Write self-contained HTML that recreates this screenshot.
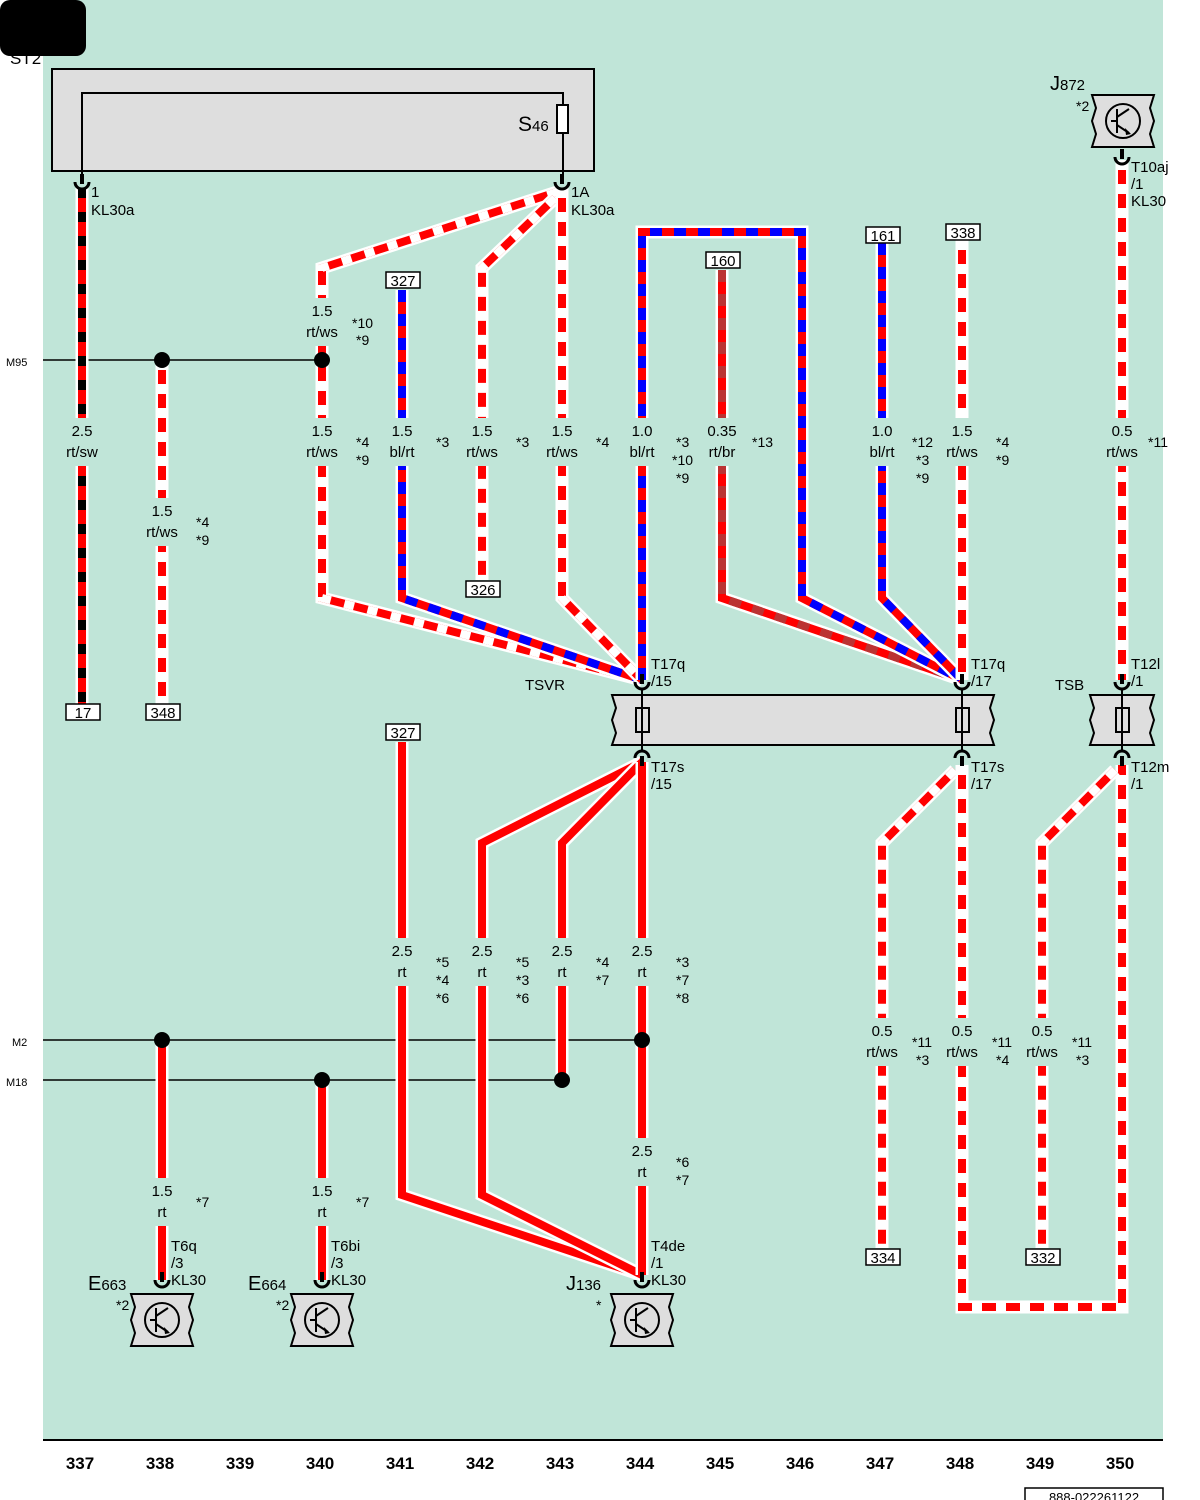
<!DOCTYPE html>
<html><head><meta charset="utf-8"><style>
body{margin:0;width:1200px;height:1500px;overflow:hidden;background:#fff}
svg{display:block;font-size:15px}
text{font-family:"Liberation Sans",sans-serif;fill:#000}
.o{fill:none;stroke:#fff;stroke-width:13}
.r{fill:none;stroke:#f00;stroke-width:8}
.ws{fill:none;stroke:#fff;stroke-width:8;stroke-dasharray:10 14}
.sw{fill:none;stroke:#000;stroke-width:8;stroke-dasharray:10 14}
.bl{fill:none;stroke:#00f;stroke-width:8;stroke-dasharray:12 12}
.br{fill:none;stroke:#b33;stroke-width:8;stroke-dasharray:12 12}
.k{fill:none;stroke:#000;stroke-width:2}
.m{fill:#c0e5d8}
.bx{fill:#fff;stroke:#000;stroke-width:1.5}
</style></head><body>
<svg width="1200" height="1500" viewBox="0 0 1200 1500" xmlns="http://www.w3.org/2000/svg">
<defs>
<g id="dev">
<path d="M-31 0H31L27 13L31 26L27 39L31 52H-31L-27 39L-31 26L-27 13Z" fill="#dedede" stroke="#000" stroke-width="2"/>
<circle cx="0" cy="26" r="17" fill="none" stroke="#000" stroke-width="2"/>
<path d="M-6 14V38M-12 26H-6M-6 22L6 14M-6 30L6 38" fill="none" stroke="#000" stroke-width="2"/>
<path d="M2 33L8 39L3 40Z" fill="#000"/>
</g>
<g id="cup"><path d="M-7 -6A7 7 0 0 0 7 -6" fill="none" stroke="#000" stroke-width="3"/><rect x="-2" y="-14" width="4" height="10" fill="#000"/></g>
<g id="cupd"><path d="M-7 6A7 7 0 0 1 7 6" fill="none" stroke="#000" stroke-width="3"/><rect x="-2" y="4" width="4" height="10" fill="#000"/></g>
</defs>
<rect x="43" y="0" width="1120" height="1440" fill="#c0e5d8"/>
<rect x="0" y="0" width="86" height="56" rx="10" fill="#000"/>
<text x="10" y="64" font-size="17">ST2</text>
<rect x="52" y="69" width="542" height="102" fill="#dedede" stroke="#000" stroke-width="2"/>
<path d="M82 180V93H563V180" class="k"/>
<rect x="557" y="105" width="11" height="28" fill="#fff" stroke="#000" stroke-width="2"/>
<text x="518" y="131" font-size="21">S<tspan font-size="15">46</tspan></text>

<path d="M43 360H322M43 1040H642M43 1080H562" stroke="#000" stroke-width="1.5" fill="none"/>
<text x="6" y="366" font-size="11">M95</text>
<text x="12" y="1046" font-size="11">M2</text>
<text x="6" y="1086" font-size="11">M18</text>

<g>
<path d="M82 188V705" class="o"/><path d="M82 188V705" class="r"/><path d="M82 188V705" class="sw"/>
<path d="M162 360V705" class="o"/><path d="M162 360V705" class="r"/><path d="M162 360V705" class="ws"/>
<path d="M557 192L322 268V598L642 680" class="o"/><path d="M557 192L322 268V598L642 680" class="r"/><path d="M557 192L322 268V598L642 680" class="ws"/>
<path d="M402 290V598L642 680" class="o"/><path d="M402 290V598L642 680" class="r"/><path d="M402 290V598L642 680" class="bl"/>
<path d="M555 198L482 268V580" class="o"/><path d="M555 198L482 268V580" class="r"/><path d="M555 198L482 268V580" class="ws"/>
<path d="M562 188V598L642 680" class="o"/><path d="M562 188V598L642 680" class="r"/><path d="M562 188V598L642 680" class="ws"/>
<path d="M722 270V598L962 680" class="o"/><path d="M722 270V598L962 680" class="r"/><path d="M722 270V598L962 680" class="br"/>
<path d="M642 680V232H802V598L962 680" class="o"/><path d="M642 680V232H802V598L962 680" class="r"/><path d="M642 680V232H802V598L962 680" class="bl"/>
<path d="M882 243V598L962 680" class="o"/><path d="M882 243V598L962 680" class="r"/><path d="M882 243V598L962 680" class="bl"/>
<path d="M962 240V680" class="o"/><path d="M962 240V680" class="r"/><path d="M962 240V680" class="ws"/>
<path d="M1122 160V680" class="o"/><path d="M1122 160V680" class="r"/><path d="M1122 160V680" class="ws"/>
<path d="M402 742V1195L642 1275" class="o"/><path d="M402 742V1195L642 1275" class="r"/>
<path d="M642 762L482 843V1195L642 1275" class="o"/><path d="M642 762L482 843V1195L642 1275" class="r"/>
<path d="M642 762L562 843V1080" class="o"/><path d="M642 762L562 843V1080" class="r"/>
<path d="M642 762V1275" class="o"/><path d="M642 762V1275" class="r"/>
<path d="M162 1040V1280" class="o"/><path d="M162 1040V1280" class="r"/>
<path d="M322 1080V1280" class="o"/><path d="M322 1080V1280" class="r"/>
<path d="M955 770L882 843V1248" class="o"/><path d="M955 770L882 843V1248" class="r"/><path d="M955 770L882 843V1248" class="ws"/>
<path d="M962 765V1307H1122V765" class="o"/><path d="M962 765V1307H1122V765" class="r"/><path d="M962 765V1307H1122V765" class="ws"/>
<path d="M1115 770L1042 843V1248" class="o"/><path d="M1115 770L1042 843V1248" class="r"/><path d="M1115 770L1042 843V1248" class="ws"/>
</g>

<g class="m">
<rect x="60" y="418" width="44" height="48"/>
<rect x="140" y="498" width="44" height="48"/>
<rect x="300" y="298" width="44" height="48"/>
<rect x="300" y="418" width="44" height="48"/>
<rect x="380" y="418" width="44" height="48"/>
<rect x="460" y="418" width="44" height="48"/>
<rect x="540" y="418" width="44" height="48"/>
<rect x="620" y="418" width="44" height="48"/>
<rect x="700" y="418" width="44" height="48"/>
<rect x="860" y="418" width="44" height="48"/>
<rect x="940" y="418" width="44" height="48"/>
<rect x="1100" y="418" width="44" height="48"/>
<rect x="380" y="938" width="44" height="48"/>
<rect x="460" y="938" width="44" height="48"/>
<rect x="540" y="938" width="44" height="48"/>
<rect x="620" y="938" width="44" height="48"/>
<rect x="620" y="1138" width="44" height="48"/>
<rect x="140" y="1178" width="44" height="48"/>
<rect x="300" y="1178" width="44" height="48"/>
<rect x="860" y="1018" width="44" height="48"/>
<rect x="940" y="1018" width="44" height="48"/>
<rect x="1020" y="1018" width="44" height="48"/>
</g>

<g fill="#000">
<circle cx="162" cy="360" r="8"/><circle cx="322" cy="360" r="8"/>
<circle cx="162" cy="1040" r="8"/><circle cx="642" cy="1040" r="8"/>
<circle cx="322" cy="1080" r="8"/><circle cx="562" cy="1080" r="8"/>
</g>

<g text-anchor="middle">
<text x="82" y="436">2.5</text><text x="82" y="457">rt/sw</text>
<text x="162" y="516">1.5</text><text x="162" y="537">rt/ws</text>
<text x="322" y="316">1.5</text><text x="322" y="337">rt/ws</text>
<text x="322" y="436">1.5</text><text x="322" y="457">rt/ws</text>
<text x="402" y="436">1.5</text><text x="402" y="457">bl/rt</text>
<text x="482" y="436">1.5</text><text x="482" y="457">rt/ws</text>
<text x="562" y="436">1.5</text><text x="562" y="457">rt/ws</text>
<text x="642" y="436">1.0</text><text x="642" y="457">bl/rt</text>
<text x="722" y="436">0.35</text><text x="722" y="457">rt/br</text>
<text x="882" y="436">1.0</text><text x="882" y="457">bl/rt</text>
<text x="962" y="436">1.5</text><text x="962" y="457">rt/ws</text>
<text x="1122" y="436">0.5</text><text x="1122" y="457">rt/ws</text>
<text x="402" y="956">2.5</text><text x="402" y="977">rt</text>
<text x="482" y="956">2.5</text><text x="482" y="977">rt</text>
<text x="562" y="956">2.5</text><text x="562" y="977">rt</text>
<text x="642" y="956">2.5</text><text x="642" y="977">rt</text>
<text x="642" y="1156">2.5</text><text x="642" y="1177">rt</text>
<text x="162" y="1196">1.5</text><text x="162" y="1217">rt</text>
<text x="322" y="1196">1.5</text><text x="322" y="1217">rt</text>
<text x="882" y="1036">0.5</text><text x="882" y="1057">rt/ws</text>
<text x="962" y="1036">0.5</text><text x="962" y="1057">rt/ws</text>
<text x="1042" y="1036">0.5</text><text x="1042" y="1057">rt/ws</text>
</g>
<g font-size="14">
<text x="352" y="328">*10</text><text x="356" y="345">*9</text>
<text x="356" y="447">*4</text><text x="356" y="465">*9</text>
<text x="196" y="527">*4</text><text x="196" y="545">*9</text>
<text x="436" y="447">*3</text><text x="516" y="447">*3</text><text x="596" y="447">*4</text>
<text x="676" y="447">*3</text><text x="672" y="465">*10</text><text x="676" y="483">*9</text>
<text x="752" y="447">*13</text>
<text x="912" y="447">*12</text><text x="916" y="465">*3</text><text x="916" y="483">*9</text>
<text x="996" y="447">*4</text><text x="996" y="465">*9</text>
<text x="1148" y="447">*11</text>
<text x="436" y="967">*5</text><text x="436" y="985">*4</text><text x="436" y="1003">*6</text>
<text x="516" y="967">*5</text><text x="516" y="985">*3</text><text x="516" y="1003">*6</text>
<text x="596" y="967">*4</text><text x="596" y="985">*7</text>
<text x="676" y="967">*3</text><text x="676" y="985">*7</text><text x="676" y="1003">*8</text>
<text x="676" y="1167">*6</text><text x="676" y="1185">*7</text>
<text x="196" y="1207">*7</text><text x="356" y="1207">*7</text>
<text x="912" y="1047">*11</text><text x="916" y="1065">*3</text>
<text x="992" y="1047">*11</text><text x="996" y="1065">*4</text>
<text x="1072" y="1047">*11</text><text x="1076" y="1065">*3</text>
</g>

<g text-anchor="middle">
<rect x="66" y="704" width="34" height="16" class="bx"/><text x="83" y="718">17</text>
<rect x="146" y="704" width="34" height="16" class="bx"/><text x="163" y="718">348</text>
<rect x="386" y="272" width="34" height="16" class="bx"/><text x="403" y="286">327</text>
<rect x="466" y="581" width="34" height="16" class="bx"/><text x="483" y="595">326</text>
<rect x="706" y="252" width="34" height="16" class="bx"/><text x="723" y="266">160</text>
<rect x="866" y="227" width="34" height="16" class="bx"/><text x="883" y="241">161</text>
<rect x="946" y="224" width="34" height="16" class="bx"/><text x="963" y="238">338</text>
<rect x="386" y="724" width="34" height="16" class="bx"/><text x="403" y="738">327</text>
<rect x="866" y="1249" width="34" height="16" class="bx"/><text x="883" y="1263">334</text>
<rect x="1026" y="1249" width="34" height="16" class="bx"/><text x="1043" y="1263">332</text>
</g>

<use href="#cup" x="82" y="188"/>
<use href="#cup" x="562" y="188"/>
<use href="#cup" x="1122" y="163"/>
<text x="91" y="197">1</text><text x="91" y="215">KL30a</text>
<text x="571" y="197">1A</text><text x="571" y="215">KL30a</text>

<path d="M612 695H994L990 708L994 720L990 733L994 745H612L616 733L612 720L616 708Z" fill="#dedede" stroke="#000" stroke-width="2"/>
<path d="M1090 695H1154L1150 708L1154 720L1150 733L1154 745H1090L1094 733L1090 720L1094 708Z" fill="#dedede" stroke="#000" stroke-width="2"/>
<g stroke="#000" stroke-width="2" fill="none">
<path d="M642 688V752M962 688V752M1122 688V752"/>
<rect x="636" y="708" width="13" height="24"/><rect x="956" y="708" width="13" height="24"/><rect x="1116" y="708" width="13" height="24"/>
</g>
<use href="#cup" x="642" y="688"/><use href="#cup" x="962" y="688"/><use href="#cup" x="1122" y="688"/>
<use href="#cupd" x="642" y="752"/><use href="#cupd" x="962" y="752"/><use href="#cupd" x="1122" y="752"/>
<text x="651" y="669">T17q</text><text x="651" y="686">/15</text>
<text x="971" y="669">T17q</text><text x="971" y="686">/17</text>
<text x="1131" y="669">T12l</text><text x="1131" y="686">/1</text>
<text x="651" y="772">T17s</text><text x="651" y="789">/15</text>
<text x="971" y="772">T17s</text><text x="971" y="789">/17</text>
<text x="1131" y="772">T12m</text><text x="1131" y="789">/1</text>
<text x="525" y="690">TSVR</text><text x="1055" y="690">TSB</text>

<use href="#dev" x="1123" y="95"/>
<text x="1050" y="90" font-size="20">J<tspan font-size="15">872</tspan></text>
<text x="1076" y="111" font-size="14">*2</text>
<text x="1131" y="172">T10aj</text><text x="1131" y="189">/1</text><text x="1131" y="206">KL30</text>

<use href="#dev" x="162" y="1294"/><use href="#cup" x="162" y="1286"/>
<use href="#dev" x="322" y="1294"/><use href="#cup" x="322" y="1286"/>
<use href="#dev" x="642" y="1294"/><use href="#cup" x="642" y="1286"/>
<text x="88" y="1290" font-size="20">E<tspan font-size="15">663</tspan></text><text x="116" y="1310" font-size="14">*2</text>
<text x="248" y="1290" font-size="20">E<tspan font-size="15">664</tspan></text><text x="276" y="1310" font-size="14">*2</text>
<text x="566" y="1290" font-size="20">J<tspan font-size="15">136</tspan></text><text x="596" y="1310" font-size="14">*</text>
<text x="171" y="1251">T6q</text><text x="171" y="1268">/3</text><text x="171" y="1285">KL30</text>
<text x="331" y="1251">T6bi</text><text x="331" y="1268">/3</text><text x="331" y="1285">KL30</text>
<text x="651" y="1251">T4de</text><text x="651" y="1268">/1</text><text x="651" y="1285">KL30</text>

<path d="M43 1440H1163" stroke="#000" stroke-width="2"/>
<g text-anchor="middle" font-weight="bold" font-size="17">
<text x="80" y="1469">337</text><text x="160" y="1469">338</text>
<text x="240" y="1469">339</text><text x="320" y="1469">340</text>
<text x="400" y="1469">341</text><text x="480" y="1469">342</text>
<text x="560" y="1469">343</text><text x="640" y="1469">344</text>
<text x="720" y="1469">345</text><text x="800" y="1469">346</text>
<text x="880" y="1469">347</text><text x="960" y="1469">348</text>
<text x="1040" y="1469">349</text><text x="1120" y="1469">350</text>
</g>
<rect x="1025" y="1488" width="138" height="20" fill="#fff" stroke="#000" stroke-width="1.5"/>
<text x="1094" y="1502" text-anchor="middle" font-size="13">888-022261122</text>
</svg>
</body></html>
